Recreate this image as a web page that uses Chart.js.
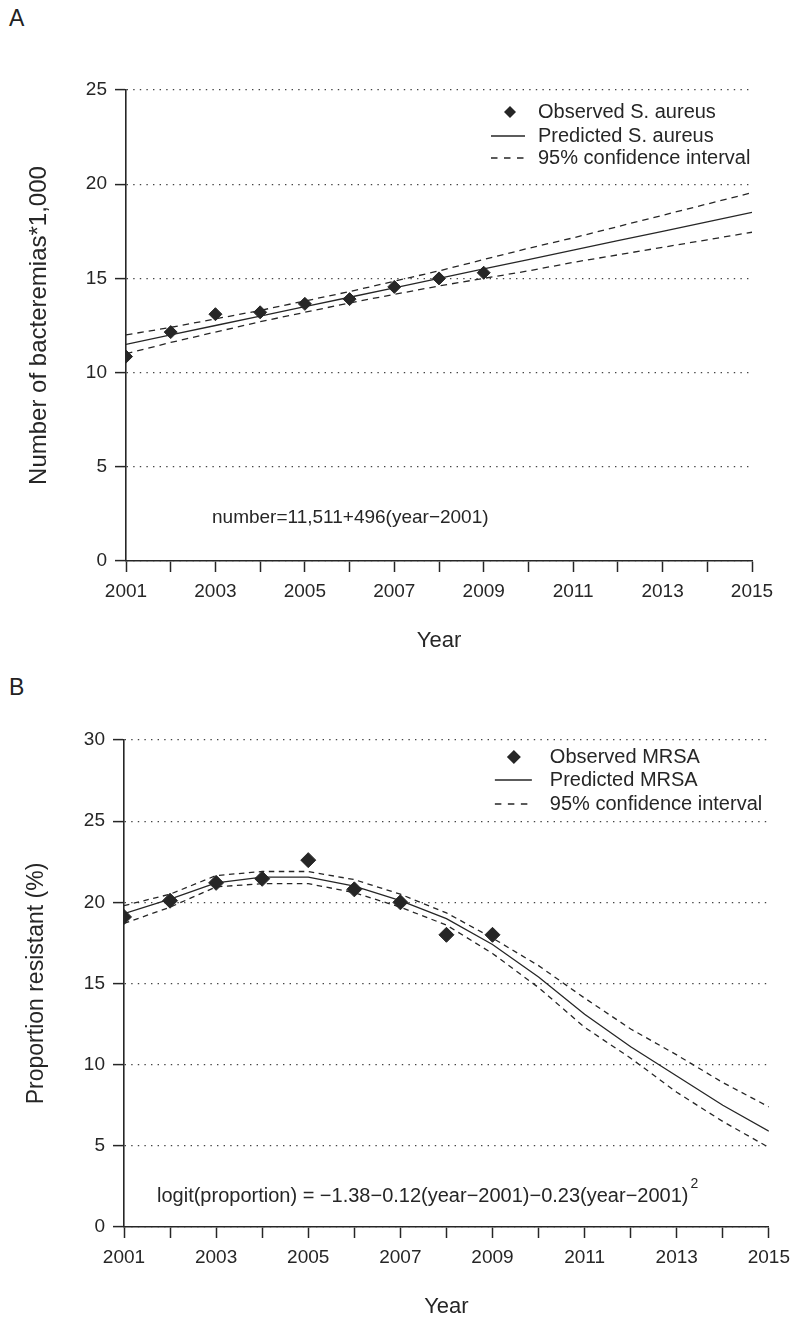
<!DOCTYPE html>
<html>
<head>
<meta charset="utf-8">
<script src="https://cdn.jsdelivr.net/npm/chart.js@4.4.0/dist/chart.umd.min.js"></script>
<style>
  body { margin:0; background:#fff; width:798px; height:1320px; position:relative; overflow:hidden;
         font-family:"Liberation Sans", Arial, sans-serif; color:#222; }
  canvas { position:absolute; left:0; }
  .panel { position:absolute; left:9px; font-size:23px; line-height:23px; }
</style>
</head>
<body>
<div class="panel" style="top:7px">A</div>
<canvas id="chartA" width="798" height="660" style="top:0"></canvas>
<div class="panel" style="top:676px">B</div>
<canvas id="chartB" width="798" height="660" style="top:660px"></canvas>

<script>
/* ── data ─────────────────────────────────────── */
const years    = [2001, 2002, 2003, 2004, 2005, 2006, 2007, 2008, 2009, 2010, 2011, 2012, 2013, 2014, 2015];
const obsYears = [2001, 2002, 2003, 2004, 2005, 2006, 2007, 2008, 2009];

// A: S. aureus bacteremias (x 1,000)
const obsA   = [10.85, 12.15, 13.1, 13.2, 13.65, 13.9, 14.55, 15.0, 15.3];
const predA  = [11.5, 12.0, 12.5, 13.0, 13.5, 14.0, 14.5, 15.0, 15.5, 16.0, 16.5, 17.0, 17.5, 18.0, 18.5];
const upperA = [12.0, 12.4, 12.85, 13.3, 13.8, 14.3, 14.85, 15.4, 16.0, 16.6, 17.15, 17.75, 18.35, 18.95, 19.55];
const lowerA = [11.0, 11.6, 12.15, 12.7, 13.2, 13.7, 14.15, 14.6, 15.0, 15.4, 15.85, 16.25, 16.65, 17.05, 17.45];

// B: proportion MRSA (%)
const obsB   = [19.1, 20.1, 21.2, 21.45, 22.6, 20.8, 20.0, 18.0, 18.0];
const predB  = [19.3, 20.2, 21.2, 21.55, 21.55, 21.0, 20.1, 19.0, 17.4, 15.4, 13.1, 11.1, 9.3, 7.5, 5.9];
const upperB = [19.8, 20.5, 21.65, 21.9, 21.9, 21.4, 20.5, 19.35, 17.8, 16.1, 14.1, 12.2, 10.6, 8.9, 7.4];
const lowerB = [18.7, 19.7, 20.95, 21.15, 21.15, 20.6, 19.7, 18.6, 16.85, 14.75, 12.3, 10.4, 8.3, 6.5, 4.9];

const ticksA = [0, 5, 10, 15, 20, 25];
const ticksB = [0, 5, 10, 15, 20, 25, 30];

const INK  = '#262626';
const FONT = '"Liberation Sans", Arial, sans-serif';

const xy = (xs, ys) => xs.map((x, i) => ({ x, y: ys[i] }));

/* ── legend + equation drawn onto the chart ───── */
const notes = {
  id: 'notes',
  afterDraw(chart, args, o) {
    const { ctx, chartArea: a } = chart;
    ctx.save();
    ctx.fillStyle = INK;
    ctx.strokeStyle = INK;
    ctx.textBaseline = 'middle';
    ctx.textAlign = 'left';

    // legend
    const L = o.legend;
    const mx = a.right + L.mark, x1 = a.right + L.line1, x2 = a.right + L.line2, tx = a.right + L.text;
    const ys = L.rows.map(r => a.top + r);
    ctx.beginPath();
    ctx.moveTo(mx - L.r, ys[0]); ctx.lineTo(mx, ys[0] - L.r);
    ctx.lineTo(mx + L.r, ys[0]); ctx.lineTo(mx, ys[0] + L.r);
    ctx.closePath(); ctx.fill();
    ctx.lineWidth = 1.3;
    ctx.beginPath(); ctx.moveTo(x1, ys[1]); ctx.lineTo(x2, ys[1]); ctx.stroke();
    ctx.setLineDash([6.5, 6.5]);
    ctx.beginPath(); ctx.moveTo(x1, ys[2]); ctx.lineTo(x2, ys[2]); ctx.stroke();
    ctx.setLineDash([]);
    ctx.font = `${L.size}px ${FONT}`;
    L.labels.forEach((t, i) => ctx.fillText(t, tx, ys[i]));

    // fitted equation
    const E = o.eq;
    ctx.font = `${E.size}px ${FONT}`;
    const ex = a.left + E.dx, ey = a.bottom + E.dy;
    ctx.fillText(E.text, ex, ey);
    if (E.sup) {
      const w = ctx.measureText(E.text).width;
      ctx.font = `${E.supSize}px ${FONT}`;
      ctx.fillText(E.sup, ex + w + 2, ey - 12);
    }
    ctx.restore();
  }
};

function makeChart(id, cfg) {
  const lineDs = (label, ys, dash) => ({
    label, data: xy(years, ys), showLine: true, pointRadius: 0,
    borderColor: INK, borderWidth: 1.3, borderDash: dash, tension: 0, fill: false
  });
  return new Chart(document.getElementById(id), {
    type: 'scatter',
    data: {
      datasets: [
        { label: 'Observed', data: xy(obsYears, cfg.obs), pointStyle: 'rectRot',
          pointRadius: cfg.markR, backgroundColor: INK, borderColor: INK, borderWidth: 1 },
        lineDs('Predicted', cfg.pred, []),
        lineDs('Upper 95%', cfg.upper, cfg.dash),
        lineDs('Lower 95%', cfg.lower, cfg.dash),
      ]
    },
    options: {
      responsive: false,
      animation: false,
      devicePixelRatio: 1,
      layout: { padding: cfg.pad },
      plugins: { legend: { display: false }, tooltip: { enabled: false }, notes: cfg.notes },
      scales: {
        x: {
          type: 'linear', min: 2001, max: 2015,
          afterFit: s => { s.height = cfg.xH; },
          grid: { drawOnChartArea: false, drawTicks: true, tickLength: 11, tickColor: INK, tickWidth: 1.5 },
          border: { display: true, color: INK, width: 1.6 },
          ticks: { stepSize: 1, autoSkip: false, maxRotation: 0, padding: cfg.xPad, color: INK,
                   font: { family: FONT, size: 19 },
                   callback: v => (v % 2 === 1 ? String(v) : '') },
          title: { display: true, text: 'Year', color: INK, font: { family: FONT, size: 22 },
                   padding: { top: 0, bottom: cfg.yearPad } }
        },
        y: {
          min: 0, max: cfg.ticks[cfg.ticks.length - 1],
          afterFit: s => { s.width = cfg.yW; },
          afterBuildTicks: s => { s.ticks = cfg.ticks.map(v => ({ value: v })); },
          grid: { drawOnChartArea: true, drawTicks: true, tickLength: 11, tickColor: INK, tickWidth: 1.5,
                  color: '#444', lineWidth: 1.2 },
          border: { display: true, color: INK, width: 1.6, dash: [1.4, 5.2] },
          ticks: { padding: 8, color: INK, font: { family: FONT, size: 19 } },
          title: { display: true, text: cfg.yTitle, color: INK, font: { family: FONT, size: cfg.yTitleSize },
                   padding: { top: cfg.yTitlePad, bottom: 0 } }
        }
      }
    },
    plugins: [notes]
  });
}

makeChart('chartA', {
  obs: obsA, pred: predA, upper: upperA, lower: lowerA, ticks: ticksA,
  markR: 6.5, dash: [6.5, 5],
  pad: { top: 90, right: 46, bottom: 0, left: 0 }, xH: 99, yW: 126, xPad: 8, yearPad: 6,
  yTitle: 'Number of bacteremias*1,000', yTitleSize: 24, yTitlePad: 25,
  notes: {
    legend: { mark: -242, line1: -261, line2: -227, text: -214, rows: [22, 46, 68], r: 6, size: 20,
              labels: ['Observed S. aureus', 'Predicted S. aureus', '95% confidence interval'] },
    eq: { text: 'number=11,511+496(year\u22122001)', size: 19, dx: 86, dy: -43 }
  }
});

makeChart('chartB', {
  obs: obsB, pred: predB, upper: upperB, lower: lowerB, ticks: ticksB,
  markR: 7.5, dash: [5.5, 4.5],
  pad: { top: 80, right: 26, bottom: 0, left: 0 }, xH: 93, yW: 124, xPad: 8, yearPad: 0,
  yTitle: 'Proportion resistant (%)', yTitleSize: 23, yTitlePad: 23,
  notes: {
    legend: { mark: -255, line1: -274, line2: -237, text: -219, rows: [17, 40, 64], r: 7, size: 20,
              labels: ['Observed MRSA', 'Predicted MRSA', '95% confidence interval'] },
    eq: { text: 'logit(proportion) = \u22121.38\u22120.12(year\u22122001)\u22120.23(year\u22122001)',
          sup: '2', supSize: 14, size: 20, dx: 33, dy: -31 }
  }
});
</script>
</body>
</html>
